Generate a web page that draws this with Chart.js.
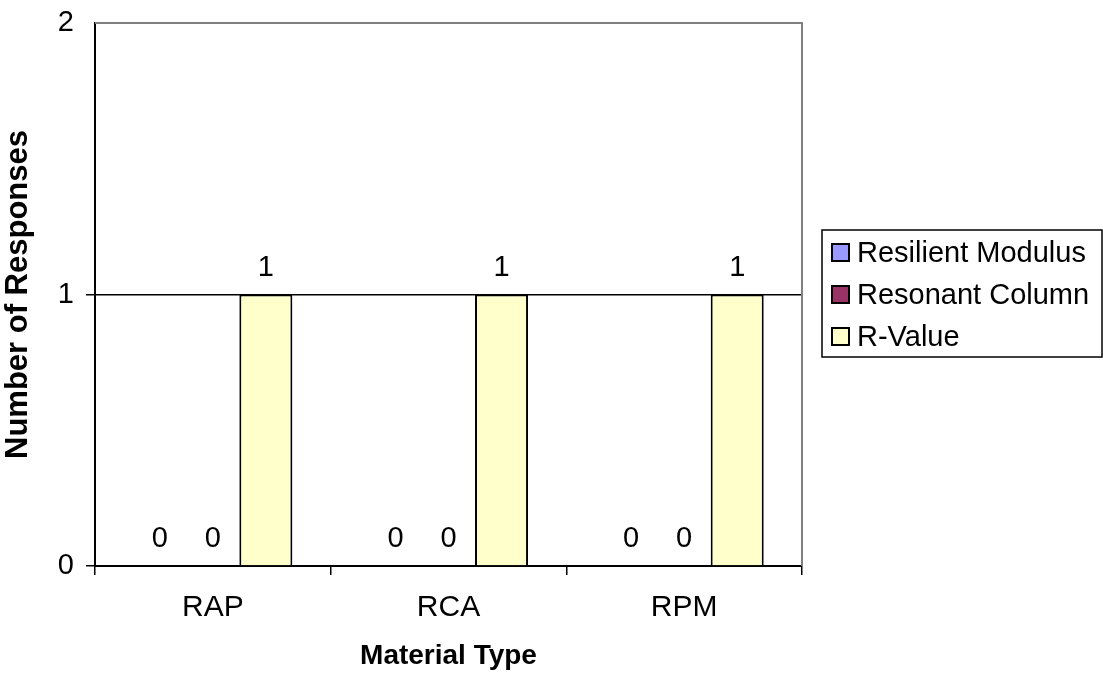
<!DOCTYPE html>
<html>
<head>
<meta charset="utf-8">
<script src="https://cdn.jsdelivr.net/npm/chart.js@4.4.1/dist/chart.umd.min.js"></script>
<style>
  html, body { margin:0; padding:0; background:#fff; }
  #wrap { width:1103px; height:679px; }
</style>
</head>
<body>
<div id="wrap"><canvas id="chart" width="1103" height="679"></canvas></div>
<script>
// data
const categories = ['RAP', 'RCA', 'RPM'];
const seriesNames = ['Resilient Modulus', 'Resonant Column', 'R-Value'];
const resilientModulus = [0, 0, 0];
const resonantColumn = [0, 0, 0];
const rValue = [1, 1, 1];
const yTicks = [0, 1, 2];

const colors = ['#9999FF', '#993366', '#FFFFCC'];
const FONT = "'Liberation Sans', Arial, sans-serif";
const FS = 29;

// value labels above bars
const barLabels = {
    id: 'barLabels',
    afterDatasetsDraw(chart) {
        const ctx = chart.ctx;
        ctx.save();
        ctx.font = `${FS}px ${FONT}`;
        ctx.fillStyle = '#000';
        ctx.textAlign = 'center';
        ctx.textBaseline = 'alphabetic';
        chart.data.datasets.forEach((ds, i) => {
            chart.getDatasetMeta(i).data.forEach((bar, j) => {
                ctx.fillText(String(ds.data[j]), bar.x, bar.y - 19);
            });
        });
        ctx.restore();
    }
};

// grey frame on right side + boxed legend
const frameAndLegend = {
    id: 'frameAndLegend',
    afterDraw(chart) {
        const ctx = chart.ctx, a = chart.chartArea;
        ctx.save();
        ctx.strokeStyle = '#808080';
        ctx.lineWidth = 2;
        ctx.beginPath();
        ctx.moveTo(a.left, a.top); ctx.lineTo(a.right, a.top); ctx.lineTo(a.right, a.bottom);
        ctx.stroke();

        // legend
        const lx = 822, ly = 230, lw = 280, lh = 127;
        ctx.strokeStyle = '#000';
        ctx.lineWidth = 1.5;
        ctx.strokeRect(lx, ly, lw, lh);
        ctx.font = `${FS}px ${FONT}`;
        ctx.textBaseline = 'middle';
        ctx.textAlign = 'left';
        chart.data.datasets.forEach((ds, i) => {
            const cy = ly + 23 + i * 42;
            ctx.fillStyle = ds.backgroundColor;
            ctx.fillRect(832, cy - 9, 17, 17);
            ctx.strokeStyle = '#000';
            ctx.lineWidth = 2;
            ctx.strokeRect(832, cy - 9, 17, 17);
            ctx.fillStyle = '#000';
            ctx.fillText(ds.label, 857, cy + 1);
        });
        ctx.restore();
    }
};

new Chart(document.getElementById('chart'), {
    type: 'bar',
    data: {
        labels: categories,
        datasets: [
            { label: seriesNames[0], data: resilientModulus },
            { label: seriesNames[1], data: resonantColumn },
            { label: seriesNames[2], data: rValue }
        ].map((d, i) => ({ ...d, backgroundColor: colors[i], borderColor: '#000', borderWidth: 2,
            borderSkipped: 'bottom', categoryPercentage: 0.675, barPercentage: 1 }))
    },
    options: {
        responsive: false,
        animation: false,
        layout: { padding: { top: 23, right: 301, left: 0, bottom: 0 } },
        plugins: { legend: { display: false }, tooltip: { enabled: false } },
        scales: {
            x: {
                grid: { drawOnChartArea: false, drawTicks: true, tickLength: 9, color: '#000', lineWidth: 1.5, offset: true },
                border: { color: '#000', width: 2 },
                ticks: { font: { family: FONT, size: 30 }, color: '#000', padding: 15 },
                title: { display: true, text: 'Material Type', color: '#000',
                    font: { family: FONT, size: 28, weight: 'bold' }, padding: { top: 0, bottom: 6 } },
                afterFit(s) { s.height = 113; s.paddingLeft = 0; s.paddingRight = 0; }
            },
            y: {
                min: 0, max: 2,
                afterBuildTicks(s) { s.ticks = yTicks.map(v => ({ value: v })); },
                grid: { color: ctx => ctx.tick && ctx.tick.value === 2 ? 'rgba(0,0,0,0)' : '#000',
                    lineWidth: 1.5, tickLength: 9, drawTicks: true },
                border: { color: '#000', width: 2 },
                ticks: { font: { family: FONT, size: 29 }, color: '#000', padding: 12 },
                title: { display: true, text: 'Number of Responses', color: '#000',
                    font: { family: FONT, size: 31, weight: 'bold' }, padding: { top: 0, bottom: 5 } },
                afterFit(s) { s.width = 95; s.paddingTop = 0; s.paddingBottom = 0; }
            }
        }
    },
    plugins: [barLabels, frameAndLegend]
});
</script>
</body>
</html>
